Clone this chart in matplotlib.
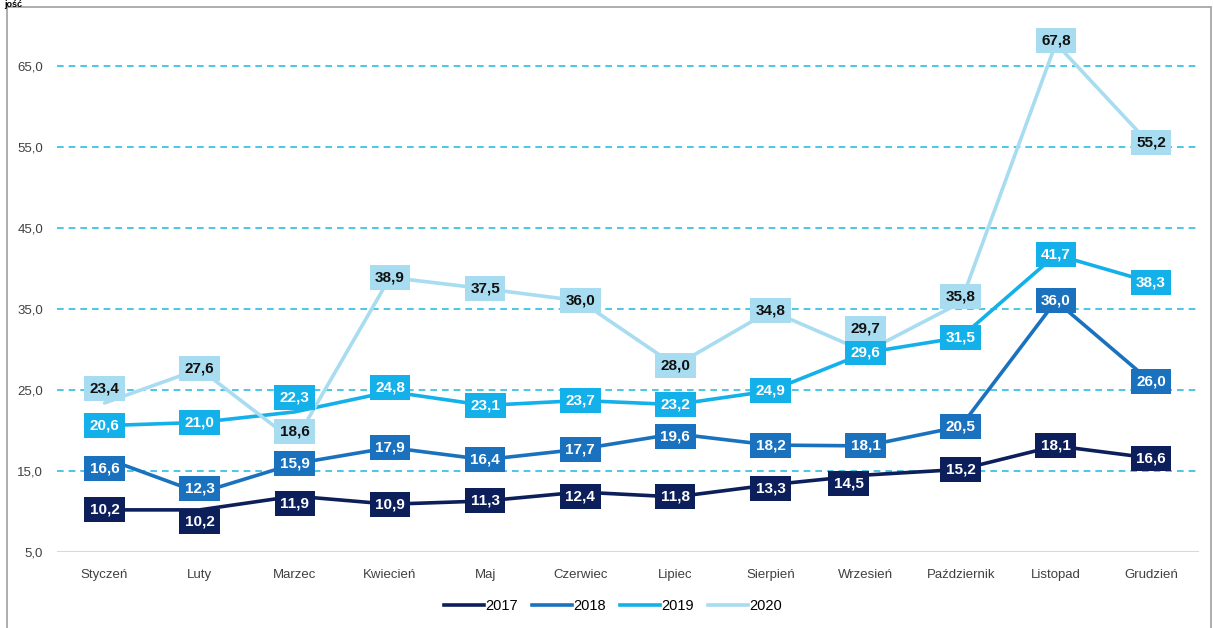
import matplotlib
matplotlib.use("Agg")
import matplotlib.pyplot as plt
from matplotlib.lines import Line2D
from matplotlib.patches import Rectangle

months = ["Styczeń", "Luty", "Marzec", "Kwiecień", "Maj", "Czerwiec", "Lipiec",
          "Sierpień", "Wrzesień", "Październik", "Listopad", "Grudzień"]
years = ["2017", "2018", "2019", "2020"]
v2017 = [10.2, 10.2, 11.9, 10.9, 11.3, 12.4, 11.8, 13.3, 14.5, 15.2, 18.1, 16.6]
v2018 = [16.6, 12.3, 15.9, 17.9, 16.4, 17.7, 19.6, 18.2, 18.1, 20.5, 36.0, 26.0]
v2019 = [20.6, 21.0, 22.3, 24.8, 23.1, 23.7, 23.2, 24.9, 29.6, 31.5, 41.7, 38.3]
v2020 = [23.4, 27.6, 18.6, 38.9, 37.5, 36.0, 28.0, 34.8, 29.7, 35.8, 67.8, 55.2]
yticks = [5, 15, 25, 35, 45, 55, 65]

series = [v2017, v2018, v2019, v2020]
colors = ["#0c1f5b", "#1a72bf", "#14b0ea", "#a8dcf0"]
txtcolors = ["white", "white", "white", "#111111"]

# label offsets in pixels (dx, dy up)
offsets = {
    (0, 1): (0, -12), (0, 2): (0, -7), (0, 8): (-17, -8), (0, 5): (0, -4), (0, 7): (0, -4),
    (1, 0): (0, -10), (1, 1): (0, 4), (1, 6): (0, -3),
    (2, 2): (0, 14), (2, 3): (0, 4),
    (3, 0): (0, 14), (3, 2): (0, 10), (3, 8): (0, 23), (3, 9): (0, 6), (3, 10): (0, 3), (3, 11): (0, 3),
}

FONT = ["Liberation Sans", "DejaVu Sans"]
W, H = 1213, 628
fig = plt.figure(figsize=(W / 100, H / 100), dpi=100)
ax = fig.add_axes([57 / W, 1 - 552 / H, (1198.6 - 57) / W, (552 - 9.3) / H])
ax.set_xlim(-0.5, 11.5)
ax.set_ylim(5, 72)
x = list(range(len(months)))

for yv in yticks[1:]:
    ax.axhline(yv, color="#2cbde0", lw=1.2, ls=(0, (4, 3)), zorder=1)
ax.axhline(5, color="#d9d9d9", lw=1.5, zorder=1)

for si, (vals, c) in enumerate(zip(series, colors)):
    ax.plot(x, vals, color=c, lw=2.6, zorder=2 + si, solid_capstyle="round")

ppd = (552 - 66) / 60.0  # pixels per data unit
ppx = (1198.6 - 57) / 12.0
for si, (vals, c, tc) in enumerate(zip(series, colors, txtcolors)):
    for i, v in enumerate(vals):
        dx, dy = offsets.get((si, i), (0, 0))
        ax.text(i + dx / ppx, v + dy / ppd, f"{v:.1f}".replace(".", ","),
                ha="center", va="center", color=tc, fontsize=11, fontweight="bold",
                family=FONT, zorder=10 + si,
                bbox=dict(boxstyle="square,pad=0.36", fc=c, ec="none"))

ax.set_xticks(x)
ax.set_xticklabels(months, fontsize=9.5, color="#404040", family=FONT)
ax.set_yticks(yticks)
ax.set_yticklabels([f"{t:.1f}".replace(".", ",") for t in yticks], fontsize=9.5, color="#404040",
                   family=FONT)
ax.tick_params(length=0, axis="x", pad=12)
ax.tick_params(length=0, axis="y", pad=10)
for s in ax.spines.values():
    s.set_visible(False)

handles = [Line2D([0], [0], color=c, lw=2.6) for c in colors]
fig.legend(handles, years, loc="center", bbox_to_anchor=(613 / W, 1 - 606 / H), ncol=4,
           frameon=False, handlelength=2.7, handletextpad=0.1, columnspacing=1.0,
           prop={"family": FONT, "size": 10.5})

fig.patches.append(Rectangle((7 / W, -0.01), (1211 - 7) / W, (628 - 7) / H + 0.01,
                             transform=fig.transFigure, fill=False, ec="#a0a0a0", lw=1.2))
fig.text(4 / W, 1.0, "jość", fontsize=6.5, fontweight="bold", va="top", ha="left",
         color="black", family=FONT)

fig.savefig("out.png", dpi=100)
